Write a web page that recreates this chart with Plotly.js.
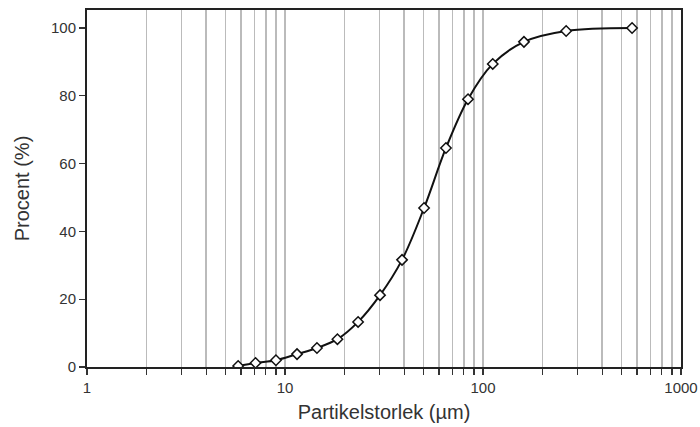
<!DOCTYPE html>
<html>
<head>
<meta charset="utf-8">
<script src="https://cdn.plot.ly/plotly-3.0.1.min.js"></script>
<style>html,body{margin:0;padding:0;background:#fff;}#chart{width:700px;height:427px;}</style>
</head>
<body>
<div id="chart"></div>
<script>
const particleSize = [5.8, 7.1, 9.0, 11.5, 14.5, 18.4, 23.4, 30.2, 39, 50.4, 65, 84, 112, 161, 263, 566];
const percent = [0.3, 1.2, 2.0, 3.8, 5.6, 8.2, 13.3, 21.2, 31.6, 46.9, 64.6, 79, 89.4, 95.9, 99.1, 100];
const xTickVals = [1,2,3,4,5,6,7,8,9,10,20,30,40,50,60,70,80,90,100,200,300,400,500,600,700,800,900,1000];
const xTickText = xTickVals.map(v => [1,10,100,1000].includes(v) ? String(v) : '');
const yTickVals = [0, 20, 40, 60, 80, 100];

const trace = {
  x: particleSize, y: percent, type: 'scatter', mode: 'lines+markers',
  line: {color: '#111', width: 2, shape: 'spline', smoothing: 1},
  marker: {symbol: 'diamond', size: 8, color: '#fff', line: {color: '#111', width: 1.5}},
  hoverinfo: 'skip'
};
const layout = {
  width: 700, height: 427,
  margin: {l: 87, r: 19, t: 10, b: 60},
  paper_bgcolor: '#fff', plot_bgcolor: '#fff',
  showlegend: false,
  font: {family: 'Liberation Sans, Arial, sans-serif', color: '#333'},
  xaxis: {
    type: 'log', range: [0, 3],
    tickvals: xTickVals, ticktext: xTickText,
    ticks: 'outside', ticklen: 6, tickcolor: '#333', tickwidth: 1.2,
    showgrid: true, gridcolor: '#bbb', gridwidth: 1.5,
    showline: true, linecolor: '#222', linewidth: 2, mirror: true,
    zeroline: false,
    tickfont: {size: 15, color: '#333'},
    title: {text: 'Partikelstorlek (µm)', font: {size: 20, color: '#333'}, standoff: 10}
  },
  yaxis: {
    range: [0, 105.3],
    tickvals: yTickVals,
    ticks: 'outside', ticklen: 6, tickcolor: '#333', tickwidth: 1.2,
    showgrid: false,
    showline: true, linecolor: '#222', linewidth: 2, mirror: true,
    zeroline: false,
    tickfont: {size: 15, color: '#333'},
    title: {text: 'Procent (%)', font: {size: 20, color: '#333'}, standoff: 16}
  }
};
Plotly.newPlot('chart', [trace], layout, {staticPlot: true});
</script>
</body>
</html>
